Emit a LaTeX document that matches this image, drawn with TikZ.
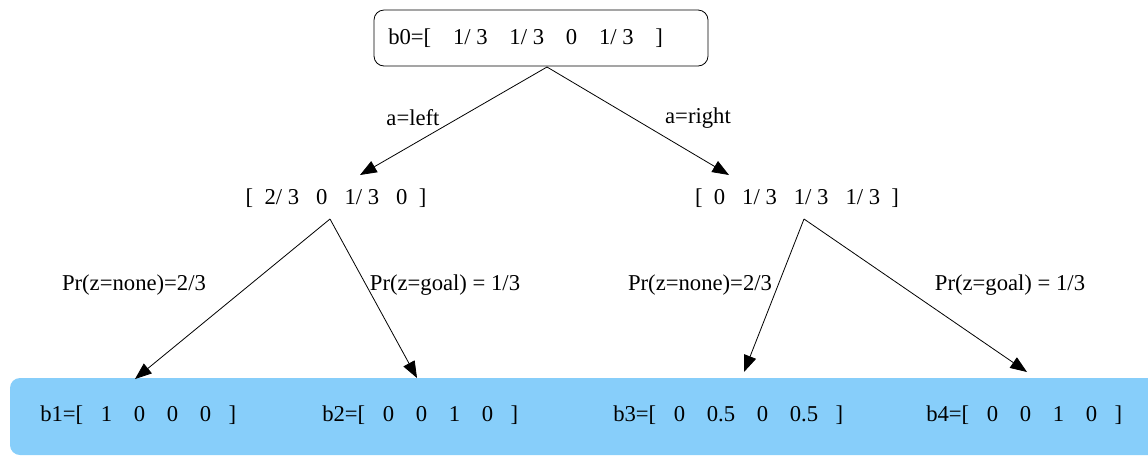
\documentclass[tikz,border=0pt]{standalone}
\usepackage{fontspec}
\setmainfont{Liberation Serif}
\usetikzlibrary{arrows.meta}
\definecolor{leafblue}{HTML}{87CEFA}
\newlength{\unitpx}
\setlength{\unitpx}{0.75pt}
\newcommand{\gp}[1]{\hspace*{#1\unitpx}}
\newcommand{\leafgaps}[5]{[\gp{17.5}#1\gp{21.7}#2\gp{21.7}#3\gp{21.7}#4\gp{17.5}]}
\tikzset{
  every node/.style={font=\fontsize{17}{20}\selectfont, inner sep=0pt},
  txt/.style={anchor=center},
  ltxt/.style={anchor=west},
  rootbox/.style={draw, rounded corners=7.5pt, line width=0.6pt},
  conn/.style={line width=0.6pt, -{Triangle[length=12.5pt,width=9.5pt]}},
}
\begin{document}
\begin{tikzpicture}[x=0.75pt,y=-0.75pt]
\useasboundingbox (0,0) rectangle (1148,455);
% leaf band
\fill[leafblue] (1148,378) -- (20,378) arc[start angle=90,end angle=180,radius=7.5pt] -- (10,445) arc[start angle=180,end angle=270,radius=7.5pt] -- (1148,455) -- cycle;
% root
\draw[rootbox] (374,10) rectangle (708,66);
\node[ltxt] (b0) at (388,38) {b0=[\gp{21.8}1/\ 3\gp{21.8}1/\ 3\gp{21.8}0\gp{21.8}1/\ 3\gp{21.8}]};
\node[txt] (m1) at (336,198) {[\ \ 2/\ 3\ \ \ 0\ \ \ 1/\ 3\ \ \ 0\ \ ]};
\node[txt] (m2) at (797,198) {[\ \ 0\ \ \ 1/\ 3\ \ \ 1/\ 3\ \ \ 1/\ 3\ \ ]};
\node[ltxt] (b1) at (40,415) {b1=\leafgaps{1}{0}{0}{0}{}};
\node[ltxt] (b2) at (322,415) {b2=\leafgaps{0}{0}{1}{0}{}};
\node[ltxt] (b3) at (613,415) {b3=\leafgaps{0}{0.5}{0}{0.5}{}};
\node[ltxt] (b4) at (926,415) {b4=\leafgaps{0}{0}{1}{0}{}};
% connector ends
\coordinate (r0) at (547,67);
\coordinate (t1) at (360,175);
\coordinate (t2) at (729,175);
\coordinate (s1) at (330,219);
\coordinate (s2) at (804,219);
\coordinate (u1) at (135,379);
\coordinate (u2) at (417,378);
\coordinate (u3) at (744,372);
\coordinate (u4) at (1027,372);
\draw[conn] (r0) -- (t1);
\draw[conn] (r0) -- (t2);
\draw[conn] (s1) -- (u1);
\draw[conn] (s1) -- (u2);
\draw[conn] (s2) -- (u3);
\draw[conn] (s2) -- (u4);
% labels
\node[txt] (l1) at (413,118) {a=left};
\node[txt] (l2) at (698,118) {a=right};
\node[txt] (l3) at (134,285) {Pr(z=none)=2/3};
\node[txt] (l4) at (445,285) {Pr(z=goal) = 1/3};
\node[txt] (l5) at (700,285) {Pr(z=none)=2/3};
\node[txt] (l6) at (1010,285) {Pr(z=goal) = 1/3};
\end{tikzpicture}
\end{document}
